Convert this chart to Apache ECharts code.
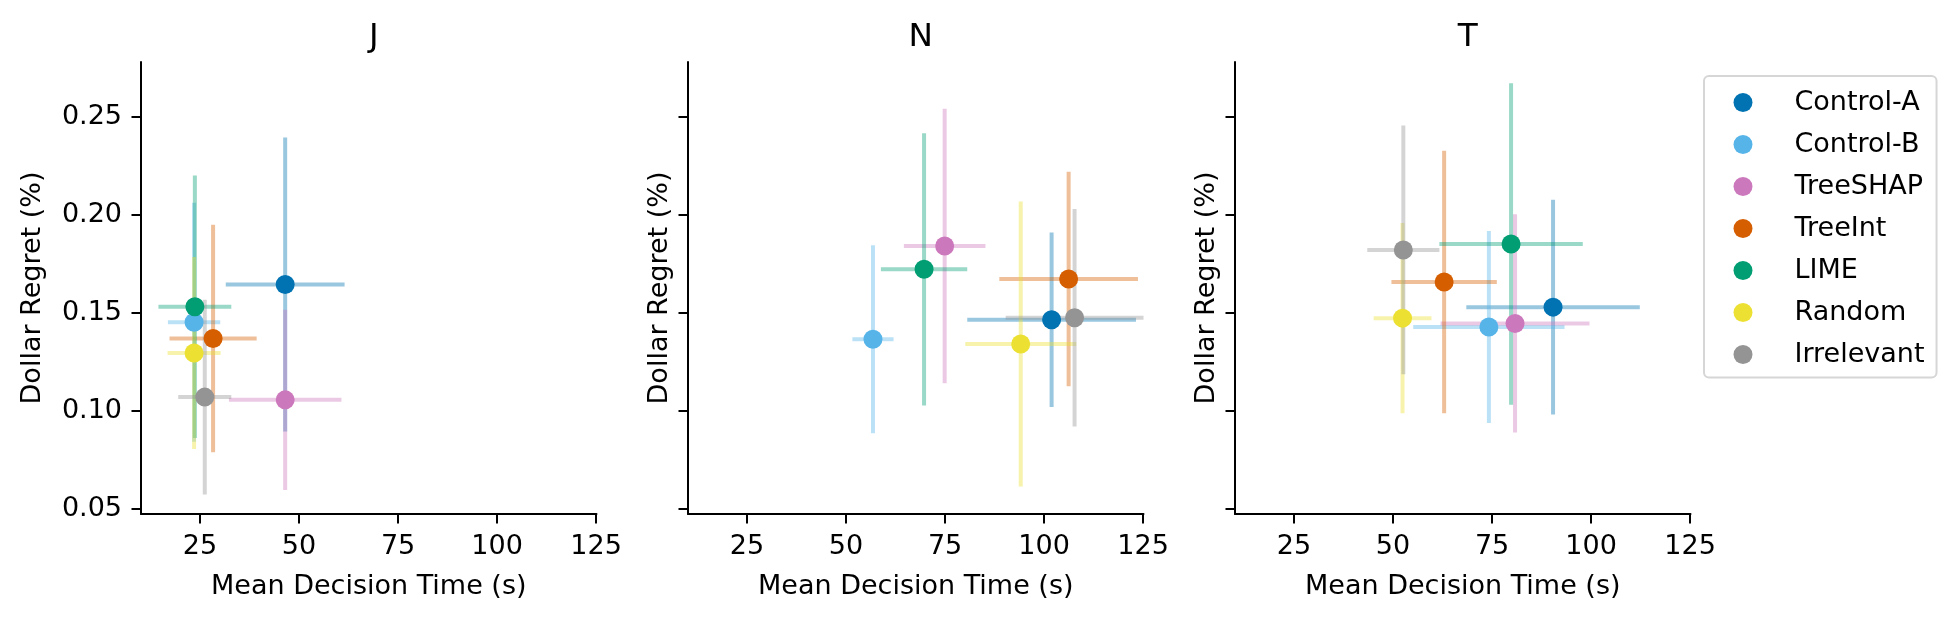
<!DOCTYPE html>
<html>
<head>
<meta charset="utf-8">
<script src="https://cdn.jsdelivr.net/npm/echarts@6/dist/echarts.min.js"></script>
<style>html,body{margin:0;padding:0;background:#fff;}#c{width:1958px;height:622px;}</style>
</head>
<body>
<div id="c"></div>
<script>
// ---- data ----
const methods = ['Control-A','Control-B','TreeSHAP','TreeInt','LIME','Random','Irrelevant'];
const colors  = ['#0173B2','#56B4E9','#CC78BC','#D55E00','#029E73','#ECE133','#949494'];
const panels  = ['J','N','T'];

const J_x    = [46.5, 23.5, 46.5, 28.3, 23.7, 23.5, 26.2];
const J_y    = [0.1646, 0.1453, 0.1057, 0.1370, 0.1532, 0.1296, 0.1071];
const J_xerr = [15.0, 6.6, 14.2, 11.0, 9.2, 6.7, 6.7];
const J_yerr = [0.075, 0.061, 0.046, 0.058, 0.067, 0.049, 0.0497];

const N_x    = [101.9, 56.8, 74.9, 106.2, 69.7, 94.1, 107.7];
const N_y    = [0.1466, 0.1366, 0.1842, 0.1674, 0.1723, 0.1342, 0.1476];
const N_xerr = [21.3, 5.2, 10.3, 17.5, 10.9, 14.0, 17.4];
const N_yerr = [0.0445, 0.048, 0.070, 0.0547, 0.0695, 0.0727, 0.0555];

const T_x    = [90.4, 74.2, 80.8, 62.9, 79.8, 52.4, 52.6];
const T_y    = [0.1530, 0.1429, 0.1447, 0.1658, 0.1852, 0.1474, 0.1822];
const T_xerr = [21.9, 19.1, 18.8, 13.3, 18.1, 7.3, 9.1];
const T_yerr = [0.0548, 0.049, 0.0557, 0.067, 0.082, 0.0486, 0.0635];

const xTicks = [25, 50, 75, 100, 125];
const yTicks = [0.05, 0.10, 0.15, 0.20, 0.25];
const xLabel = 'Mean Decision Time (s)';
const yLabel = 'Dollar Regret (%)';

// ---- layout ----
const FONT = 'DejaVu Sans';
const gridLefts = [141, 688, 1235];
const gridW = 455.5, gridTop = 62, gridH = 452;
const panelData = [
  {x: J_x, y: J_y, xe: J_xerr, ye: J_yerr},
  {x: N_x, y: N_y, xe: N_xerr, ye: N_yerr},
  {x: T_x, y: T_y, xe: T_xerr, ye: T_yerr}
];

const grids = [], xAxes = [], yAxes = [], titles = [], series = [];
panels.forEach((p, i) => {
  grids.push({left: gridLefts[i], top: gridTop, width: gridW, height: gridH, containLabel: false});
  titles.push({text: p, left: gridLefts[i] + gridW / 2, top: 16, textAlign: 'center',
    textStyle: {fontFamily: FONT, fontSize: 32.7, fontWeight: 'normal', color: '#000', lineHeight: 33}});
  xAxes.push({
    type: 'value', gridIndex: i, min: 10.1, max: 125.1,
    name: xLabel, nameLocation: 'middle', nameGap: 59,
    nameTextStyle: {fontFamily: FONT, fontSize: 27, color: '#000'},
    axisLine: {show: true, onZero: false, lineStyle: {color: '#000', width: 2}},
    axisTick: {show: true, length: 9.5, lineStyle: {color: '#000', width: 2}, customValues: xTicks},
    axisLabel: {show: true, margin: 19, fontFamily: FONT, fontSize: 27, color: '#000', customValues: xTicks,
      formatter: v => String(v)},
    splitLine: {show: false}
  });
  yAxes.push({
    type: 'value', gridIndex: i, min: 0.04745, max: 0.2781,
    name: yLabel, nameLocation: 'middle', nameGap: i === 0 ? 95 : 14.5,
    nameTextStyle: {fontFamily: FONT, fontSize: 27, color: '#000'},
    axisLine: {show: true, onZero: false, lineStyle: {color: '#000', width: 2}},
    axisTick: {show: true, length: 9.5, lineStyle: {color: '#000', width: 2}, customValues: yTicks},
    axisLabel: {show: i === 0, margin: 19, fontFamily: FONT, fontSize: 27, color: '#000', customValues: yTicks,
      formatter: v => v.toFixed(2)},
    splitLine: {show: false}
  });
  const d = panelData[i];
  methods.forEach((m, k) => {
    series.push({
      name: m + ' err', type: 'custom', xAxisIndex: i, yAxisIndex: i, clip: true, silent: true,
      data: [[d.x[k], d.y[k], d.xe[k], d.ye[k]]],
      encode: {x: 0, y: 1},
      renderItem: (params, api) => {
        const x = api.value(0), y = api.value(1), xe = api.value(2), ye = api.value(3);
        const a = api.coord([x - xe, y]), b = api.coord([x + xe, y]);
        const c = api.coord([x, y - ye]), e = api.coord([x, y + ye]);
        const st = {stroke: colors[k], lineWidth: 4, opacity: 0.4, lineCap: 'butt'};
        return {type: 'group', children: [
          {type: 'line', shape: {x1: a[0], y1: a[1], x2: b[0], y2: b[1]}, style: st},
          {type: 'line', shape: {x1: c[0], y1: c[1], x2: e[0], y2: e[1]}, style: st}
        ]};
      }
    });
    series.push({
      name: m, type: 'scatter', xAxisIndex: i, yAxisIndex: i, symbol: 'circle', symbolSize: 19,
      itemStyle: {color: colors[k], opacity: 1}, silent: true,
      data: [[d.x[k], d.y[k]]], emphasis: {disabled: true}
    });
  });
});

const chart = echarts.init(document.getElementById('c'), null, {renderer: 'canvas'});
chart.setOption({
  backgroundColor: '#fff',
  animation: false,
  title: titles,
  grid: grids,
  xAxis: xAxes,
  yAxis: yAxes,
  legend: {
    orient: 'vertical', left: 1704, top: 76,
    data: methods.map(m => ({name: m, icon: 'circle'})),
    itemWidth: 19, itemHeight: 19, itemGap: 15,
    padding: [13, 12, 9.5, 29.5],
    backgroundColor: '#fff', borderColor: '#d6d6d6', borderWidth: 2, borderRadius: 5,
    selectedMode: false,
    textStyle: {fontFamily: FONT, fontSize: 27, color: '#000', padding: [0, 0, 0, 37]}
  },
  series: series
});
</script>
</body>
</html>
